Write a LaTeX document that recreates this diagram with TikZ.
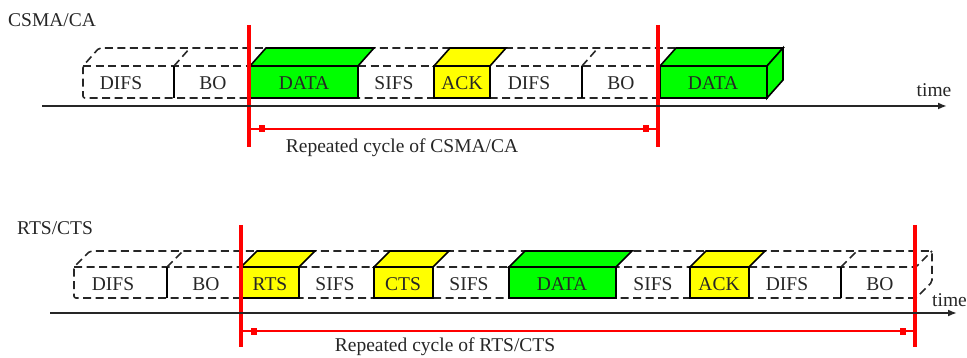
\documentclass[tikz,border=0pt]{standalone}
\usepackage{fontspec}
\setmainfont{Liberation Serif}
\usetikzlibrary{arrows.meta,calc}

\definecolor{pktgreen}{RGB}{0,255,0}
\definecolor{pktyellow}{RGB}{255,255,0}

\tikzset{
  boxline/.style={draw=black, line width=1.6pt, line join=miter},
  dashline/.style={draw=black!85, line width=1.6pt, dash pattern=on 8pt off 4.5pt, rounded corners=2pt},
  slotlabel/.style={font=\fontsize{19.5}{22}\selectfont, text=black!85, inner sep=0pt},
  cycleline/.style={draw=red, line width=3.2pt},
  dimline/.style={draw=red, line width=1.3pt},
  dimmark/.style={fill=red, draw=none, rectangle, minimum width=6pt, minimum height=7pt, inner sep=0pt},
  axis/.style={draw=black!85, line width=1.8pt, -{Latex[length=9pt,width=7pt]}},
}

% solid 3D slot: front face plus top face
% #1 x left, #2 x right, #3 y front top, #4 y bottom, #5 depth dx, #6 depth dy, #7 fill
\newcommand{\frameslab}[7]{%
  \filldraw[boxline, fill=#7] (#1,#3) -- (#1+#5,#3-#6) -- (#2+#5,#3-#6) -- (#2,#3) -- cycle;
  \filldraw[boxline, fill=#7] (#1,#3) rectangle (#2,#4);}

\begin{document}
\begin{tikzpicture}[x=1pt, y=-1pt]
\useasboundingbox (0,0) rectangle (967,358);

% ---------------- CSMA/CA ----------------
\node[slotlabel, anchor=west] (csma) at (8,20) {CSMA/CA};

% dashed envelope of the idle periods
\draw[dashline] (660,98) -- (83,98) -- (83,66) -- (99,48) -- (676,48);
\draw[dashline] (83,66) -- (660,66);
% DIFS / BO borders
\draw[boxline] (174,66) -- (174,98);
\draw[dashline] (174,66) -- (190,48);
\draw[boxline] (582,66) -- (582,98);
\draw[dashline] (582,66) -- (598,48);

% frames
\frameslab{250}{358}{66}{98}{16}{18}{pktgreen}
\frameslab{434}{490}{66}{98}{16}{18}{pktyellow}
\frameslab{660}{767}{66}{98}{16}{18}{pktgreen}
\filldraw[boxline, fill=pktgreen] (767,66) -- (783,48) -- (783,80) -- (767,98) -- cycle;

\node[slotlabel] (a-difs1) at (121,83) {DIFS};
\node[slotlabel] (a-bo1)   at (213,83) {BO};
\node[slotlabel] (a-data1) at (304,83) {DATA};
\node[slotlabel] (a-sifs)  at (394,83) {SIFS};
\node[slotlabel] (a-ack)   at (462,83) {ACK};
\node[slotlabel] (a-difs2) at (529,83) {DIFS};
\node[slotlabel] (a-bo2)   at (621,83) {BO};
\node[slotlabel] (a-data2) at (713,83) {DATA};

% cycle boundaries
\coordinate (a-r1t) at (249,25);  \coordinate (a-r1b) at (249,147);
\coordinate (a-r2t) at (658,25);  \coordinate (a-r2b) at (658,147);
\draw[cycleline] (a-r1t) -- (a-r1b);
\draw[cycleline] (a-r2t) -- (a-r2b);

% time axis
\coordinate (a-t0) at (42,106);
\coordinate (a-t1) at (947,106);
\draw[axis] (a-t0) -- (a-t1);
\node[slotlabel] (a-time) at (934,90) {time};

% cycle length
\coordinate (a-c1) at (249,129);
\coordinate (a-c2) at (658,129);
\draw[dimline] (a-c1) -- (a-c2);
\node[dimmark] (a-m1) at ($(a-c1)+(13,0)$) {};
\node[dimmark] (a-m2) at ($(a-c2)+(-12,0)$) {};
\node[slotlabel] (a-cycle) at (402,148) {Repeated cycle of CSMA/CA};

% ---------------- RTS/CTS ----------------
\node[slotlabel, anchor=west] (rtscts) at (17,228) {RTS/CTS};

\draw[dashline] (916,298) -- (74,298) -- (74,267) -- (90,251) -- (932,251) -- (932,282) -- (916,298);
\draw[dashline] (74,267) -- (916,267) -- (932,251);
\draw[boxline] (167,267) -- (167,298);
\draw[dashline] (167,267) -- (183,251);
\draw[boxline] (841,267) -- (841,298);
\draw[dashline] (841,267) -- (857,251);

\frameslab{241}{299}{267}{298}{16}{16}{pktyellow}
\frameslab{374}{433}{267}{298}{16}{16}{pktyellow}
\frameslab{509}{616}{267}{298}{16}{16}{pktgreen}
\frameslab{690}{749}{267}{298}{16}{16}{pktyellow}

\node[slotlabel] (b-difs1) at (113,284) {DIFS};
\node[slotlabel] (b-bo1)   at (206,284) {BO};
\node[slotlabel] (b-rts)   at (270,284) {RTS};
\node[slotlabel] (b-sifs1) at (335,284) {SIFS};
\node[slotlabel] (b-cts)   at (403,284) {CTS};
\node[slotlabel] (b-sifs2) at (469,284) {SIFS};
\node[slotlabel] (b-data)  at (562,284) {DATA};
\node[slotlabel] (b-sifs3) at (653,284) {SIFS};
\node[slotlabel] (b-ack)   at (719,284) {ACK};
\node[slotlabel] (b-difs2) at (787,284) {DIFS};
\node[slotlabel] (b-bo2)   at (880,284) {BO};

\coordinate (b-r1t) at (241,225);  \coordinate (b-r1b) at (241,347);
\coordinate (b-r2t) at (915,225);  \coordinate (b-r2b) at (915,347);
\draw[cycleline] (b-r1t) -- (b-r1b);
\draw[cycleline] (b-r2t) -- (b-r2b);

\coordinate (b-t0) at (50,313);
\coordinate (b-t1) at (957,313);
\draw[axis] (b-t0) -- (b-t1);
\node[slotlabel, anchor=west] (b-time) at (932,300) {time};

\coordinate (b-c1) at (241,331);
\coordinate (b-c2) at (915,331);
\draw[dimline] (b-c1) -- (b-c2);
\node[dimmark] (b-m1) at ($(b-c1)+(13,0)$) {};
\node[dimmark] (b-m2) at ($(b-c2)+(-12,0)$) {};
\node[slotlabel] (b-cycle) at (445,347) {Repeated cycle of RTS/CTS};
\end{tikzpicture}
\end{document}
